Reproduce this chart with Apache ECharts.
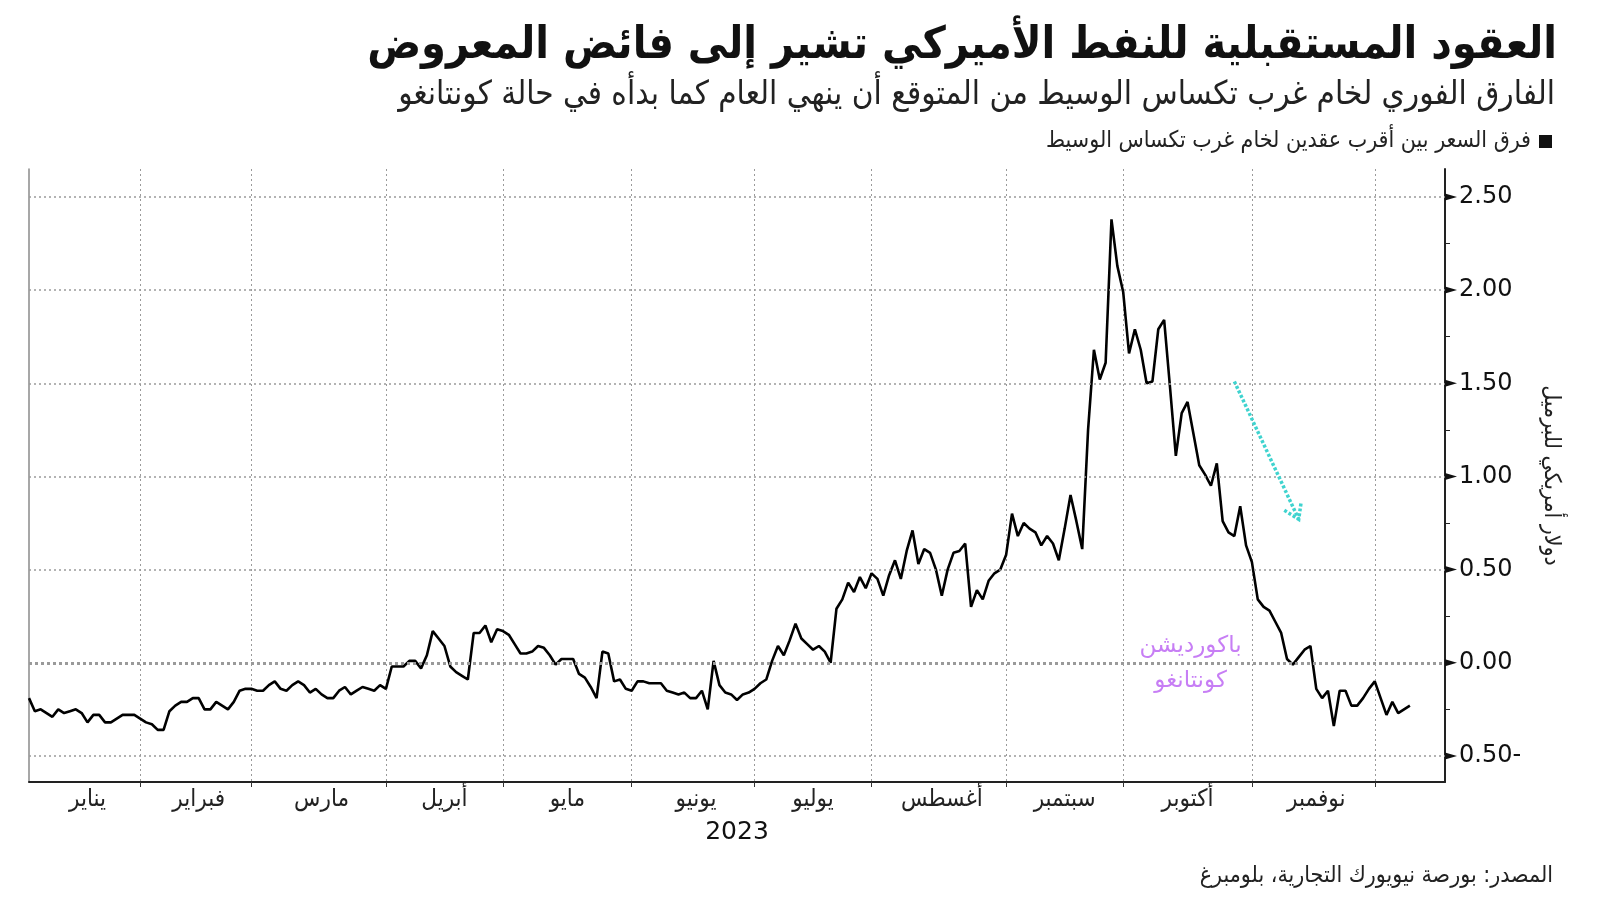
<!DOCTYPE html>
<html>
<head>
<meta charset="utf-8">
<script src="https://cdn.jsdelivr.net/npm/echarts@6/dist/echarts.min.js"></script>
<style>
html,body{margin:0;padding:0;background:#ffffff;}
#chart{width:1600px;height:901px;}
</style>
</head>
<body>
<div id="chart"></div>
<script>
// ---------- texts ----------
const titleText = 'العقود المستقبلية للنفط الأميركي تشير إلى فائض المعروض';
const subtitleText = 'الفارق الفوري لخام غرب تكساس الوسيط من المتوقع أن ينهي العام كما بدأه في حالة كونتانغو';
const seriesName = 'فرق السعر بين أقرب عقدين لخام غرب تكساس الوسيط';
const sourceText = 'المصدر: بورصة نيويورك التجارية، بلومبرغ';
const yAxisName = 'دولار أمريكي للبرميل';
const yearLabel = '2023';
const backwardationLabel = 'باكورديشن';
const contangoLabel = 'كونتانغو';

// ---------- categories (trading days of 2023) ----------
const monthNames = ['يناير','فبراير','مارس','أبريل','مايو','يونيو','يوليو','أغسطس','سبتمبر','أكتوبر','نوفمبر','ديسمبر'];
const firstDay = '2023-01-03';
const holidays = ['2023-01-16','2023-02-20','2023-05-29','2023-06-19','2023-07-04','2023-09-04','2023-11-23'];
const categoryCount = 243;

// ---------- series values (USD per barrel, front two WTI contracts spread) ----------
const spreadJan = [-0.19,-0.26,-0.25,-0.27,-0.29,-0.25,-0.27,-0.26,-0.25,-0.27,-0.32,-0.28,-0.28,-0.32,-0.32,-0.30,-0.28,-0.28,-0.28,-0.30];
const spreadFeb = [-0.32,-0.33,-0.36,-0.36,-0.26,-0.23,-0.21,-0.21,-0.19,-0.19,-0.25,-0.25,-0.21,-0.23,-0.25,-0.21,-0.15,-0.14,-0.14];
const spreadMar = [-0.15,-0.15,-0.12,-0.10,-0.14,-0.15,-0.12,-0.10,-0.12,-0.16,-0.14,-0.17,-0.19,-0.19,-0.15,-0.13,-0.17,-0.15,-0.13,-0.14,-0.15,-0.12,-0.14];
const spreadApr = [-0.02,-0.02,-0.02,0.01,0.01,-0.03,0.04,0.17,0.13,0.09,-0.02,-0.05,-0.07,-0.09,0.16,0.16,0.20,0.11,0.18,0.17];
const spreadMay = [0.15,0.10,0.05,0.05,0.06,0.09,0.08,0.04,-0.01,0.02,0.02,0.02,-0.06,-0.08,-0.13,-0.19,0.06,0.05,-0.10,-0.09,-0.14,-0.15];
const spreadJun = [-0.10,-0.10,-0.11,-0.11,-0.11,-0.15,-0.16,-0.17,-0.16,-0.19,-0.19,-0.15,-0.25,0.01,-0.12,-0.16,-0.17,-0.20,-0.17,-0.16,-0.14];
const spreadJul = [-0.11,-0.09,0.01,0.09,0.04,0.12,0.21,0.13,0.10,0.07,0.09,0.06,0.00,0.29,0.34,0.43,0.38,0.46,0.40,0.48];
const spreadAug = [0.45,0.36,0.47,0.55,0.45,0.60,0.71,0.53,0.61,0.59,0.50,0.36,0.50,0.59,0.60,0.64,0.30,0.39,0.34,0.44,0.48,0.50,0.58];
const spreadSep = [0.80,0.68,0.75,0.72,0.70,0.63,0.68,0.64,0.55,0.72,0.90,0.76,0.61,1.25,1.68,1.52,1.61,2.38,2.13,1.99];
const spreadOct = [1.66,1.79,1.68,1.50,1.51,1.79,1.84,1.48,1.11,1.34,1.40,1.23,1.06,1.01,0.95,1.07,0.76,0.70,0.68,0.84,0.63,0.54];
const spreadNov = [0.34,0.30,0.28,0.22,0.16,0.02,-0.01,0.03,0.07,0.09,-0.14,-0.19,-0.15,-0.34,-0.15,-0.15,-0.23,-0.23,-0.19,-0.14,-0.10];
const spreadDec = [-0.19,-0.28,-0.21,-0.27,-0.25,-0.23];

// ---------- axis ticks ----------
const yMin = -0.64;
const yMax = 2.65;
const yTickValues = [-0.5, 0, 0.5, 1, 1.5, 2, 2.5];
const yMinorTickValues = [-0.25, 0.25, 0.75, 1.25, 1.75, 2.25];

// ---------- build ----------
const spread = [].concat(spreadJan, spreadFeb, spreadMar, spreadApr, spreadMay, spreadJun,
                         spreadJul, spreadAug, spreadSep, spreadOct, spreadNov, spreadDec);

function pad(n){ return (n < 10 ? '0' : '') + n; }
const categories = [];
(function(){
  const d = new Date(firstDay + 'T12:00:00Z');
  while (categories.length < categoryCount) {
    const wd = d.getUTCDay();
    const s = d.getUTCFullYear() + '-' + pad(d.getUTCMonth() + 1) + '-' + pad(d.getUTCDate());
    if (wd !== 0 && wd !== 6 && holidays.indexOf(s) < 0) categories.push(s);
    d.setUTCDate(d.getUTCDate() + 1);
  }
})();
function monthOf(c){ return parseInt(c.slice(5, 7), 10) - 1; }

// month separators: last trading day of each month (within the data span)
const separatorIdx = new Set();
const labelIdx = new Map();
(function(){
  let prev = 0;
  for (let i = 0; i < categories.length - 1; i++) {
    if (monthOf(categories[i]) !== monthOf(categories[i + 1])) {
      separatorIdx.add(i);
      labelIdx.set(Math.round((prev + i) / 2), monthOf(categories[i]));
      prev = i;
    }
  }
})();

const FONT = "'DejaVu Sans Condensed', 'DejaVu Sans', sans-serif";
const FONT_NUM = "'DejaVu Sans', sans-serif";

const chart = echarts.init(document.getElementById('chart'), null, {renderer: 'canvas'});

const option = {
  backgroundColor: '#ffffff',
  animation: false,
  title: [
    {text: titleText, right: 38, top: 19,
     textStyle: {fontFamily: FONT, fontSize: 44.5, fontWeight: 'bold', color: '#111'}},
    {text: subtitleText, right: 40, top: 74,
     textStyle: {fontFamily: FONT, fontSize: 33, fontWeight: 'normal', color: '#222'}},
    {text: sourceText, right: 42, top: 860,
     textStyle: {fontFamily: FONT, fontSize: 23, fontWeight: 'normal', color: '#222'}}
  ],
  legend: {
    right: 43, top: 125, align: 'right', icon: 'rect', itemWidth: 13, itemHeight: 13,
    selectedMode: false,
    textStyle: {fontFamily: FONT, fontSize: 23, color: '#222', padding: [0, 3, 0, 0]},
    data: [{name: seriesName, itemStyle: {color: '#111'}}]
  },
  grid: {left: 29, right: 155, top: 169, bottom: 119},
  xAxis: {
    type: 'category',
    data: categories,
    boundaryGap: false,
    name: yearLabel,
    nameLocation: 'middle',
    nameGap: 38,
    nameTextStyle: {fontFamily: FONT_NUM, fontSize: 25, color: '#111'},
    axisLine: {show: true, onZero: false, lineStyle: {color: '#222', width: 2}},
    axisTick: {show: true, length: 5, interval: function(i){ return separatorIdx.has(i); },
               lineStyle: {color: '#333', width: 1}},
    splitLine: {show: true, interval: function(i){ return separatorIdx.has(i); },
                lineStyle: {color: '#9a9a9a', width: 1, type: [2, 3]}},
    axisLabel: {
      interval: function(i){ return labelIdx.has(i); },
      formatter: function(v, i){ return labelIdx.has(i) ? monthNames[labelIdx.get(i)] : ''; },
      fontFamily: FONT, fontSize: 24, color: '#222', margin: 6
    }
  },
  yAxis: [
    {
      type: 'value', position: 'right', min: yMin, max: yMax,
      name: yAxisName, nameLocation: 'middle', nameRotate: -90, nameGap: 94,
      nameTextStyle: {fontFamily: FONT, fontSize: 23, color: '#222'},
      axisLine: {show: true, lineStyle: {color: '#222', width: 2}},
      axisTick: {show: true, inside: false, length: 5, customValues: yMinorTickValues,
                 lineStyle: {color: '#222', width: 1}},
      splitLine: {show: false},
      axisLabel: {
        customValues: yTickValues, margin: 14,
        fontFamily: FONT_NUM, fontSize: 24, color: '#111',
        formatter: function(v){ return v < 0 ? Math.abs(v).toFixed(2) + '-' : v.toFixed(2); }
      }
    },
    {
      type: 'value', position: 'left', min: yMin, max: yMax,
      axisLine: {show: true, onZero: false, lineStyle: {color: '#8a8a8a', width: 1.5}},
      axisTick: {show: false}, axisLabel: {show: false}, splitLine: {show: false}
    }
  ],
  series: [
    {
      name: 'grid', type: 'line', data: [], z: 1, silent: true,
      markLine: {
        silent: true, symbol: ['none', 'none'], label: {show: false},
        data: yTickValues.map(function(v){
          return {yAxis: v, lineStyle: {color: '#9a9a9a', width: v === 0 ? 3 : 1.5, type: v === 0 ? [3, 3] : [2, 3]}};
        })
      },
      markPoint: {
        silent: true, symbol: 'triangle', symbolSize: [7, 12], symbolRotate: -90, symbolOffset: [6, 0],
        itemStyle: {color: '#111'}, label: {show: false},
        data: yTickValues.map(function(v){ return {coord: [categories[categories.length - 1], v]}; })
      }
    },
    {
      name: seriesName, type: 'line', data: spread, z: 3,
      showSymbol: false, symbol: 'none',
      lineStyle: {color: '#000', width: 2.6},
      itemStyle: {color: '#111'}
    }
  ]
};
chart.setOption(option);

// ---------- annotations (anchored in data space) ----------
const annoIndex = 198;
const backwardationValue = 0.09;
const contangoValue = -0.10;
const arrowFrom = [206, 1.51];
const arrowTo = [217, 0.77];

function toPx(i, v){ return chart.convertToPixel({xAxisIndex: 0, yAxisIndex: 0}, [categories[i], v]); }
const p1 = toPx(annoIndex, backwardationValue);
const p2 = toPx(annoIndex, contangoValue);
const a0 = toPx(arrowFrom[0], arrowFrom[1]);
const a1 = toPx(arrowTo[0], arrowTo[1]);
const back = Math.atan2(a0[1] - a1[1], a0[0] - a1[0]);
const headLen = 17, headAng = 33 * Math.PI / 180;
const h1 = [a1[0] + headLen * Math.cos(back - headAng), a1[1] + headLen * Math.sin(back - headAng)];
const h2 = [a1[0] + headLen * Math.cos(back + headAng), a1[1] + headLen * Math.sin(back + headAng)];
const annoColor = '#c77ef5';
const arrowColor = '#3fd3cf';
chart.setOption({
  graphic: [
    {type: 'text', z: 10, style: {text: backwardationLabel, x: p1[0] + 3, y: p1[1], fill: annoColor,
      fontFamily: FONT_NUM, fontSize: 23, align: 'center', verticalAlign: 'middle'}},
    {type: 'text', z: 10, style: {text: contangoLabel, x: p2[0] + 3, y: p2[1], fill: annoColor,
      fontFamily: FONT_NUM, fontSize: 23, align: 'center', verticalAlign: 'middle'}},
    {type: 'polyline', z: 10, shape: {points: [a0, a1]},
      style: {stroke: arrowColor, lineWidth: 3.5, lineDash: [3, 2], fill: null}},
    {type: 'polyline', z: 10, shape: {points: [h1, a1, h2]},
      style: {stroke: arrowColor, lineWidth: 3.5, lineDash: [3, 2], fill: null}}
  ]
});
</script>
</body>
</html>
